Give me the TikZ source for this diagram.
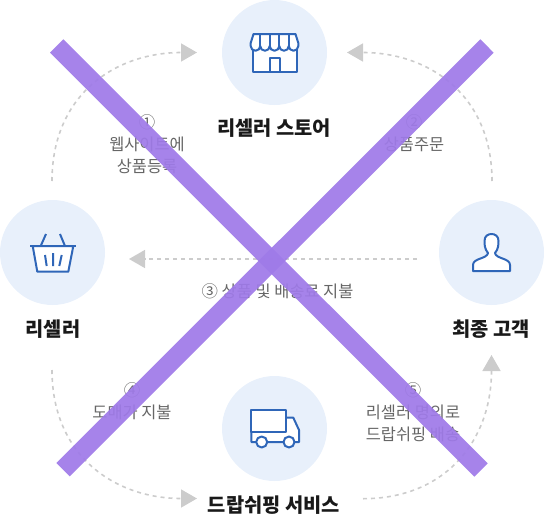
\documentclass[tikz,border=0pt]{standalone}
\usepackage{fontspec}
\setmainfont{Noto Sans CJK KR}
\usetikzlibrary{arrows.meta}
\definecolor{circlefill}{HTML}{E8F0FB}
\definecolor{iconblue}{HTML}{2F66B8}
\definecolor{flowgray}{HTML}{CCCCCC}
\definecolor{captiongray}{HTML}{666666}
\definecolor{crosspurple}{HTML}{9F7AE8}
\tikzset{
	party/.style={circle,fill=circlefill,minimum size=105pt,inner sep=0pt},
	title/.style={font=\fontsize{19.8}{22}\selectfont\bfseries,text=black!90,inner sep=0pt},
	caption/.style={font=\fontsize{16.4}{22}\selectfont,text=captiongray,align=center,inner sep=0pt},
	icon/.style={draw=iconblue,line width=2pt,line join=round},
	iconbody/.style={icon,fill=white},
	flow/.style={draw=flowgray,line width=1.6pt,dash pattern=on 4pt off 4pt,-{Triangle[length=16pt,width=18pt,fill=flowgray]}},
	cross/.style={draw=crosspurple,line width=18.9pt,opacity=0.93}
}
\begin{document}
\begin{tikzpicture}[x=1pt,y=-1pt]
	\useasboundingbox (0,0) rectangle (544,517);
	
	\node[party] (store) at (274.5,52.5) {};
	\node[party] (reseller) at (52.5,252.5) {};
	\node[party] (customer) at (491.5,252.5) {};
	\node[party] (dropship) at (274.5,428.5) {};
	
	\node[title] (storetitle) at (274,128) {리셀러 스토어};
	\node[title] (resellertitle) at (53,329) {리셀러};
	\node[title] (customertitle) at (491,329) {최종 고객};
	\node[title] (dropshiptitle) at (274,505) {드랍쉬핑 서비스};
	
	\node[caption] (listing) at (147,144.5) {①\\웹사이트에\\상품등록};
	\node[caption] (order) at (414,133.5) {②\\상품주문};
	\node[caption] (payment) at (277.5,291.5) {③ 상품 및 배송료 지불};
	\node[caption] (wholesale) at (132,401.5) {④\\도매가 지불};
	\node[caption] (shipping) at (413,412.5) {⑤\\리셀러 명의로\\드랍쉬핑 배송};
	
	% store
	\draw[iconbody] (253,48) -- (253,71.7) -- (296.7,71.7) -- (296.7,48) -- cycle;
	\draw[icon] (269.7,71.7) -- (269.7,58.3) -- (279.7,58.3) -- (279.7,71.7);
	\draw[iconbody] (253.5,34) -- (295.5,34) -- (298.3,43) -- (298.3,46) arc[start angle=0,end angle=180,radius=4.76] arc[start angle=0,end angle=180,radius=4.76] arc[start angle=0,end angle=180,radius=4.76] arc[start angle=0,end angle=180,radius=4.76] arc[start angle=0,end angle=180,radius=4.76] -- (250.7,43) -- cycle;
	\draw[icon] (260,34) -- (260,46) (269.5,34) -- (269.5,46) (279,34) -- (279,46) (288.5,34) -- (288.5,46);
	% basket
	\draw[iconbody] (32.7,246) -- (37.3,271.7) -- (68.3,271.7) -- (73.3,246) -- cycle;
	\draw[icon] (30,246) -- (76,246);
	\draw[icon] (40.7,246) -- (46,234) (65,246) -- (60,234);
	\draw[icon] (45,255) -- (46.7,266) (53,253) -- (53,266) (61.7,255) -- (59.3,266);
	% person
	\draw[iconbody] (473,271) -- (510,271) -- (510,265) .. controls (510,258) and (496,259) .. (495,253) .. controls (498.5,249) and (498.5,244) .. (498.5,241) .. controls (498.5,236) and (495,234) .. (491.5,234) .. controls (488,234) and (484.5,236) .. (484.5,241) .. controls (484.5,244) and (484.5,249) .. (488,253) .. controls (487,259) and (473,258) .. (473,265) -- cycle;
	% truck
	\draw[iconbody] (286,417.7) -- (293.3,417.7) -- (299,430) -- (299,442) -- (251.3,442) -- (251.3,431.7) -- cycle;
	\draw[iconbody] (251.3,431.7) -- (251.3,410) -- (286,410) -- (286,431.7) -- cycle;
	\draw[iconbody] (261.7,442) circle (5.5);
	\draw[iconbody] (289,442) circle (5.5);
	
	\coordinate (listingstart) at (52,181);
	\coordinate (orderstart) at (492,181);
	\coordinate (paymentstart) at (417,259);
	\coordinate (wholesalestart) at (52,370);
	\coordinate (shippingstart) at (363,498.7);
	\coordinate (listingend) at (197,52.5);
	\coordinate (orderend) at (347,52.5);
	\coordinate (paymentend) at (129,259);
	\coordinate (wholesaleend) at (197,498.5);
	\coordinate (shippingend) at (491.5,355);
	
	\draw[flow] (listingstart) .. controls +(0,-86) and +(-82,0) .. (listingend);
	\draw[flow] (orderstart) .. controls +(0,-86) and +(82,0) .. (orderend);
	\draw[flow] (paymentstart) -- (paymentend);
	\draw[flow] (wholesalestart) .. controls +(0,86) and +(-82,0) .. (wholesaleend);
	\draw[flow] (shippingstart) .. controls +(82,0) and +(0,86) .. (shippingend);
	
	\coordinate (crossnw) at (56.7,46);
	\coordinate (crossse) at (481,470);
	\coordinate (crossne) at (487,46);
	\coordinate (crosssw) at (63,469.7);
	
	\draw[cross] (crossnw) -- (crossse);
	\draw[cross] (crossne) -- (crosssw);
\end{tikzpicture}
\end{document}
